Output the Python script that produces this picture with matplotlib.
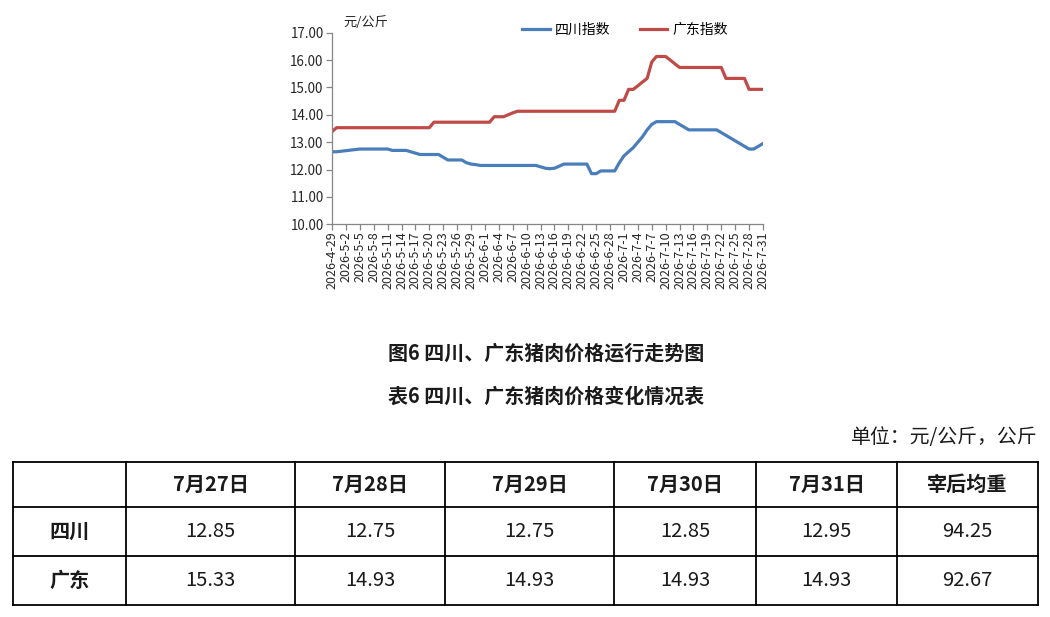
import matplotlib
matplotlib.use("Agg")
import matplotlib.pyplot as plt
import pandas as pd

plt.rcParams['font.family'] = ['Noto Sans CJK SC', 'DejaVu Sans']

# 每日指数 2026-4-29 ~ 2026-7-31
dates = pd.date_range("2026-04-29", "2026-07-31", freq="D")
sichuan = [
    12.65, 12.65, 12.67, 12.69, 12.71, 12.73, 12.75, 12.75, 12.75, 12.75,
    12.75, 12.75, 12.75, 12.70, 12.70, 12.70, 12.70, 12.65, 12.60, 12.55,
    12.55, 12.55, 12.55, 12.55, 12.45, 12.35, 12.35, 12.35, 12.35, 12.25,
    12.20, 12.18, 12.15, 12.15, 12.15, 12.15, 12.15, 12.15, 12.15, 12.15,
    12.15, 12.15, 12.15, 12.15, 12.15, 12.10, 12.05, 12.03, 12.05, 12.12,
    12.20, 12.20, 12.20, 12.20, 12.20, 12.20, 11.85, 11.85, 11.95, 11.95,
    11.95, 11.95, 12.25, 12.50, 12.65, 12.80, 13.00, 13.20, 13.45, 13.65,
    13.75, 13.75, 13.75, 13.75, 13.75, 13.65, 13.55, 13.45, 13.45, 13.45,
    13.45, 13.45, 13.45, 13.45, 13.35, 13.25, 13.15, 13.05, 12.95, 12.85,
    12.75, 12.75, 12.85, 12.95,
]
guangdong = [
    13.39, 13.53, 13.53, 13.53, 13.53, 13.53, 13.53, 13.53, 13.53, 13.53,
    13.53, 13.53, 13.53, 13.53, 13.53, 13.53, 13.53, 13.53, 13.53, 13.53,
    13.53, 13.53, 13.73, 13.73, 13.73, 13.73, 13.73, 13.73, 13.73, 13.73,
    13.73, 13.73, 13.73, 13.73, 13.73, 13.93, 13.93, 13.93, 14.00, 14.07,
    14.13, 14.13, 14.13, 14.13, 14.13, 14.13, 14.13, 14.13, 14.13, 14.13,
    14.13, 14.13, 14.13, 14.13, 14.13, 14.13, 14.13, 14.13, 14.13, 14.13,
    14.13, 14.13, 14.53, 14.53, 14.93, 14.93, 15.06, 15.20, 15.33, 15.93,
    16.13, 16.13, 16.13, 16.00, 15.86, 15.73, 15.73, 15.73, 15.73, 15.73,
    15.73, 15.73, 15.73, 15.73, 15.73, 15.33, 15.33, 15.33, 15.33, 15.33,
    14.93, 14.93, 14.93, 14.93,
]
labels = ["%d-%d-%d" % (d.year, d.month, d.day) for d in dates]

# 表6
col_heads = ["", "7月27日", "7月28日", "7月29日", "7月30日", "7月31日", "宰后均重"]
row_names = ["四川", "广东"]
sichuan_row = ["12.85", "12.75", "12.75", "12.85", "12.95", "94.25"]
guangdong_row = ["15.33", "14.93", "14.93", "14.93", "14.93", "92.67"]

W, H = 1050, 617
fig = plt.figure(figsize=(W / 100, H / 100), dpi=100)
ax = fig.add_axes([332 / W, 1 - 224.3 / H, 431 / W, 191.6 / H])

x = list(range(len(dates)))
ax.plot(x, sichuan, color="#4a7ebb", lw=2.3, label="四川指数", solid_joinstyle="round")
ax.plot(x, guangdong, color="#be4b48", lw=2.3, label="广东指数", solid_joinstyle="round")

ax.set_xlim(0, len(dates) - 1)
ax.set_ylim(10, 17)
ax.set_yticks([10, 11, 12, 13, 14, 15, 16, 17])
ax.set_yticklabels(["%.2f" % v for v in range(10, 18)])
ax.set_xticks(x[::3])
ax.set_xticklabels(labels[::3], rotation=90)
for s in ["top", "right"]:
    ax.spines[s].set_visible(False)
for s in ["left", "bottom"]:
    ax.spines[s].set_color("#868686")
    ax.spines[s].set_linewidth(0.9)
ax.tick_params(axis="y", length=4, width=0.9, color="#868686", labelsize=9.7,
               labelcolor="#262626", pad=2)
ax.tick_params(axis="x", length=4, width=0.9, color="#868686", labelsize=9,
               labelcolor="#262626", pad=1)

ax.legend(ncol=2, frameon=False, loc="center", bbox_to_anchor=(625 / W, 1 - 30 / H),
          bbox_transform=fig.transFigure, fontsize=10, handlelength=2.0,
          handletextpad=0.35, columnspacing=2.1)

# overlay in pixel units for the captions and table
ov = fig.add_axes([0, 0, 1, 1])
ov.set_xlim(0, W)
ov.set_ylim(H, 0)
ov.axis("off")

ov.text(343, 22, "元/公斤", fontsize=9.5, color="#262626", va="center", ha="left")
ov.text(546, 353, "图6 四川、广东猪肉价格运行走势图", fontsize=14.4, fontweight="bold",
        ha="center", va="center", color="#1a1a1a")
ov.text(546, 396, "表6 四川、广东猪肉价格变化情况表", fontsize=14.4, fontweight="bold",
        ha="center", va="center", color="#1a1a1a")
ov.text(1038, 438, "单位：元/公斤，公斤", fontsize=14.3, ha="right", va="center",
        color="#1a1a1a")

col_x = [13, 126, 295, 445, 614, 756, 897, 1038]
row_y = [462, 507, 556, 605]
for cx in col_x:
    ov.plot([cx, cx], [row_y[0], row_y[-1]], color="black", lw=1.3)
for ry in row_y:
    ov.plot([col_x[0], col_x[-1]], [ry, ry], color="black", lw=1.3)

def mid(a, i):
    return (a[i] + a[i + 1]) / 2

for i, h in enumerate(col_heads):
    ov.text(mid(col_x, i), mid(row_y, 0), h, fontsize=14.5, fontweight="bold",
            ha="center", va="center", color="#1a1a1a")
for r, (name, vals) in enumerate(zip(row_names, [sichuan_row, guangdong_row])):
    yc = mid(row_y, r + 1)
    ov.text(mid(col_x, 0), yc, name, fontsize=14.5, fontweight="bold",
            ha="center", va="center", color="#1a1a1a")
    for j, v in enumerate(vals):
        ov.text(mid(col_x, j + 1), yc, v, fontsize=14.5, ha="center", va="center",
                color="#1a1a1a")

fig.savefig("out.png", dpi=100)
